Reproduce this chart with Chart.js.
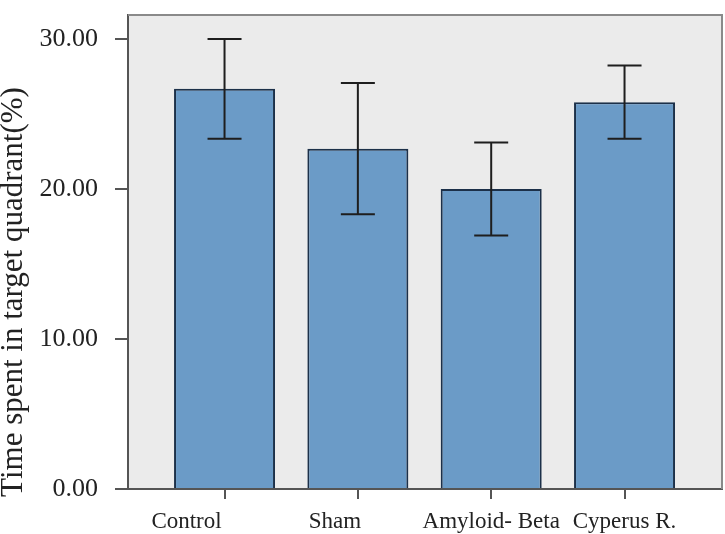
<!DOCTYPE html>
<html>
<head>
<meta charset="utf-8">
<script src="https://cdn.jsdelivr.net/npm/chart.js@4/dist/chart.umd.min.js"></script>
<style>
html,body{margin:0;padding:0;background:#fff;}
#wrap{width:725px;height:534px;position:relative;}
</style>
</head>
<body>
<div id="wrap"><canvas id="c" width="725" height="534"></canvas></div>
<script>
const categories = ["Control", "Sham", "Amyloid- Beta", "Cyperus R."];
const means = [26.69, 22.69, 20.0, 25.78];
const errLow = [23.35, 18.31, 16.9, 23.35];
const errHigh = [30.0, 27.07, 23.1, 28.24];
const yTicks = [0, 10, 20, 30];
const yTitle = "Time spent in target quadrant(%)";

const FONT = "'Liberation Serif', 'DejaVu Serif', serif";
const TXT = "#222222";
// layout: horizontal nudge of x tick labels (px), as in the original figure
const X_LABEL_NUDGE = [-38, -23, 0, 0];

const plotBg = {
  id: "plotBg",
  beforeDraw(chart) {
    const a = chart.chartArea, ctx = chart.ctx;
    ctx.save();
    ctx.fillStyle = "#ebebeb";
    ctx.fillRect(a.left, a.top, a.right - a.left, a.bottom - a.top);
    ctx.restore();
    const xs = chart.scales.x;
    const items = xs.getLabelItems(a);
    items.forEach((it, i) => {
      if (!it._nudged && it.options && it.options.translation) {
        it.options.translation[0] += X_LABEL_NUDGE[i] || 0;
        it._nudged = true;
      }
    });
  },
  afterDraw(chart) {
    const a = chart.chartArea, ctx = chart.ctx;
    ctx.save();
    ctx.strokeStyle = "#8a8a8a";
    ctx.lineWidth = 2;
    ctx.beginPath();
    ctx.moveTo(a.left, a.top);
    ctx.lineTo(a.right, a.top);
    ctx.lineTo(a.right, a.bottom);
    ctx.stroke();
    // y title
    ctx.fillStyle = TXT;
    ctx.font = "31px " + FONT;
    ctx.textAlign = "center";
    ctx.textBaseline = "middle";
    ctx.translate(14, 292);
    ctx.rotate(-Math.PI / 2);
    ctx.fillText(yTitle, 0, 0);
    ctx.restore();
  }
};

const errorBars = {
  id: "errorBars",
  afterDatasetsDraw(chart) {
    const xs = chart.scales.x, ys = chart.scales.y, ctx = chart.ctx;
    ctx.save();
    ctx.strokeStyle = "#1e1e1e";
    ctx.lineWidth = 2;
    categories.forEach((c, i) => {
      const x = xs.getPixelForValue(i);
      const yl = ys.getPixelForValue(errLow[i]);
      const yh = ys.getPixelForValue(errHigh[i]);
      const hw = 17;
      ctx.beginPath();
      ctx.moveTo(x, yl); ctx.lineTo(x, yh);
      ctx.moveTo(x - hw, yh); ctx.lineTo(x + hw, yh);
      ctx.moveTo(x - hw, yl); ctx.lineTo(x + hw, yl);
      ctx.stroke();
    });
    ctx.restore();
  }
};

new Chart(document.getElementById("c"), {
  type: "bar",
  data: {
    datasets: [{
      data: means.map((v, i) => ({ x: i, y: v })),
      backgroundColor: "#6b9bc7",
      borderColor: "#1c3049",
      borderWidth: 2,
      barPercentage: 0.7575,
      categoryPercentage: 1.0
    }]
  },
  options: {
    responsive: false,
    animation: false,
    layout: { padding: { top: 15, right: 3, left: 0, bottom: 0 } },
    plugins: { legend: { display: false }, tooltip: { enabled: false } },
    scales: {
      x: {
        type: "linear",
        offset: false,
        min: -0.724,
        max: 3.731,
        afterBuildTicks(axis) { axis.ticks = categories.map((_, i) => ({ value: i })); },
        afterFit(axis) { axis.height = 45; axis.paddingLeft = 0; axis.paddingRight = 0; },
        ticks: {
          callback: (v) => categories[v],
          color: TXT,
          font: { family: FONT, size: 23 },
          padding: 9,
          maxRotation: 0,
          autoSkip: false
        },
        grid: { offset: false, drawOnChartArea: false, drawTicks: true, tickLength: 10, color: "#555", lineWidth: 2 },
        border: { display: true, color: "#555", width: 2 }
      },
      y: {
        min: 0,
        max: 31.6,
        afterBuildTicks(axis) { axis.ticks = yTicks.map(v => ({ value: v })); },
        afterFit(axis) { axis.width = 128; axis.paddingTop = 0; axis.paddingBottom = 0; },
        ticks: {
          callback: (v) => v.toFixed(2),
          color: TXT,
          font: { family: FONT, size: 26 },
          padding: 17
        },
        grid: { drawOnChartArea: false, drawTicks: true, tickLength: 13, color: "#555", lineWidth: 2 },
        border: { display: true, color: "#555", width: 2 }
      }
    }
  },
  plugins: [plotBg, errorBars]
});
</script>
</body>
</html>
